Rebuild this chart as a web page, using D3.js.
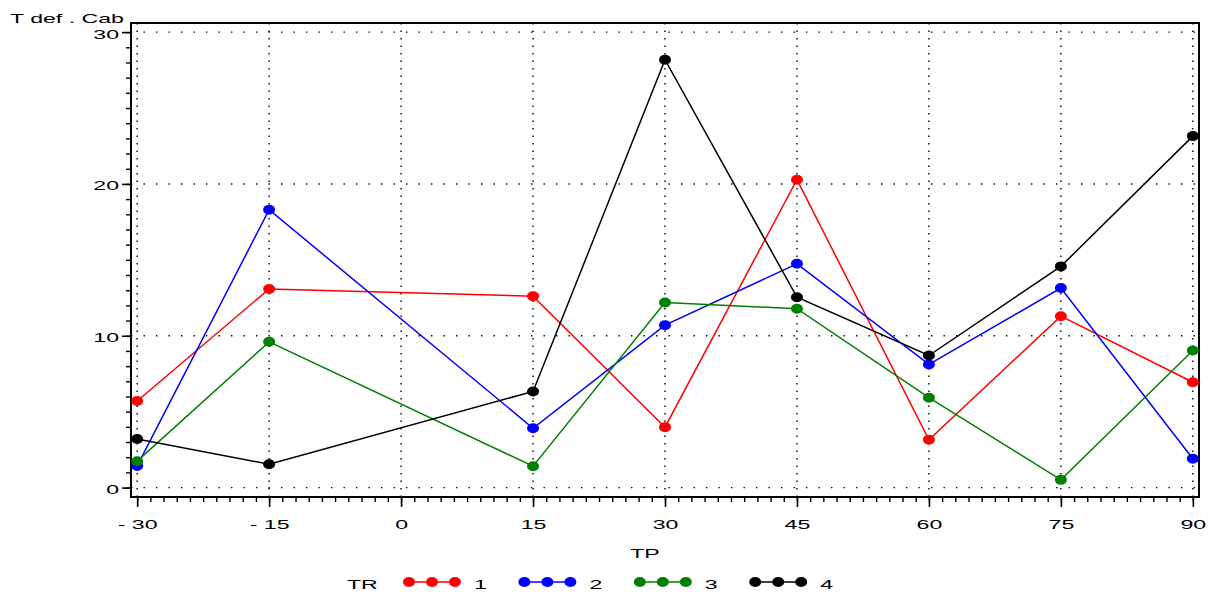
<!DOCTYPE html>
<html>
<head>
<meta charset="utf-8">
<script src="https://cdn.jsdelivr.net/npm/d3@7"></script>
<style>
  html, body { margin: 0; padding: 0; background: #fff; }
  svg { display: block; font-family: "Liberation Sans", Arial, sans-serif; }
</style>
</head>
<body>
<svg id="chart" width="1208" height="593"></svg>
<script>
//  data
const tp = [-30, -15, 15, 30, 45, 60, 75, 90];
const tr_names = ["1", "2", "3", "4"];
const tr1 = [5.7, 13.08, 12.61, 3.98, 20.28, 3.15, 11.29, 6.94];
const tr2 = [1.43, 18.3, 3.91, 10.7, 14.74, 8.11, 13.14, 1.9];
const tr3 = [1.74, 9.6, 1.41, 12.19, 11.78, 5.92, 0.51, 9.03];
const tr4 = [3.2, 1.54, 6.33, 28.18, 12.54, 8.7, 14.57, 23.15];
const x_ticks = [-30, -15, 0, 15, 30, 45, 60, 75, 90];
const y_ticks = [0, 10, 20, 30];
const colors = ["#ff0000", "#0000ff", "#008000", "#000000"];

//  draw
function draw_chart() {
  const svg = d3.select("#chart");
  const frame = {left: 131, right: 1199, top: 23, bottom: 497};
  const sx = 1.78;   // the labels in the picture are stretched wide
  const fs = 13;

  const x = d3.scaleLinear().domain([-30.7, 90.7]).range([frame.left, frame.right]);
  const y = d3.scaleLinear().domain([-0.62, 30.6]).range([frame.bottom, frame.top]);

  // dotted grid
  svg.append("g").selectAll("line").data(x_ticks).join("line")
      .attr("x1", d => x(d)).attr("x2", d => x(d))
      .attr("y1", frame.top).attr("y2", frame.bottom)
      .attr("stroke", "#000").attr("stroke-width", 1.4)
      .attr("stroke-dasharray", "1.4,6.1");
  svg.append("g").selectAll("line").data(y_ticks).join("line")
      .attr("x1", frame.left).attr("x2", frame.right)
      .attr("y1", d => y(d)).attr("y2", d => y(d))
      .attr("stroke", "#000").attr("stroke-width", 1.4)
      .attr("stroke-dasharray", "1.4,11.1");

  // minor ticks
  svg.append("g")
      .attr("transform", `translate(0,${frame.bottom})`)
      .call(d3.axisBottom(x).tickValues(d3.range(-30, 90.1, 1.5)).tickSize(5).tickFormat(""))
      .call(g => g.select(".domain").remove())
      .selectAll("line").attr("stroke-width", 1.4);
  svg.append("g")
      .attr("transform", `translate(${frame.left},0)`)
      .call(d3.axisLeft(y).tickValues(d3.range(0, 30.1, 1)).tickSize(5).tickFormat(""))
      .call(g => g.select(".domain").remove())
      .selectAll("line").attr("stroke-width", 1.4);

  // major ticks and labels
  const xAxis = svg.append("g")
      .attr("transform", `translate(0,${frame.bottom})`)
      .call(d3.axisBottom(x).tickValues(x_ticks).tickSize(10)
        .tickFormat(d => d < 0 ? "- " + Math.abs(d) : String(d)));
  xAxis.select(".domain").remove();
  xAxis.selectAll("line").attr("stroke-width", 1.6);
  xAxis.selectAll("text")
      .attr("y", null).attr("dy", null)
      .attr("transform", `translate(0,32) scale(${sx},1)`)
      .attr("font-size", fs).attr("font-family", null).attr("fill", "#000");

  const yAxis = svg.append("g")
      .attr("transform", `translate(${frame.left},0)`)
      .call(d3.axisLeft(y).tickValues(y_ticks).tickSize(9));
  yAxis.select(".domain").remove();
  yAxis.selectAll("line").attr("stroke-width", 1.6);
  yAxis.selectAll("text")
      .attr("x", null).attr("dy", "0.38em")
      .attr("transform", `translate(-12,1) scale(${sx},1)`)
      .attr("font-size", fs).attr("font-family", null).attr("fill", "#000");

  // frame
  svg.append("rect")
      .attr("x", frame.left).attr("y", frame.top)
      .attr("width", frame.right - frame.left).attr("height", frame.bottom - frame.top)
      .attr("fill", "none").attr("stroke", "#000").attr("stroke-width", 2);

  // series
  const series = [tr1, tr2, tr3, tr4];
  const line = d3.line().x((d, i) => x(tp[i])).y(d => y(d));
  series.forEach((vals, k) => {
    svg.append("path")
        .datum(vals)
        .attr("fill", "none")
        .attr("stroke", colors[k])
        .attr("stroke-width", 1.5)
        .attr("d", line);
    svg.append("g").selectAll("ellipse").data(vals).join("ellipse")
        .attr("cx", (d, i) => x(tp[i]))
        .attr("cy", d => y(d))
        .attr("rx", 6).attr("ry", 5)
        .attr("fill", colors[k]);
  });

  // titles
  const label = (txt, tx, ty, anchor) => svg.append("text")
      .attr("transform", `translate(${tx},${ty}) scale(${sx},1)`)
      .attr("text-anchor", anchor)
      .attr("font-size", fs)
      .text(txt);
  label("T def . Cab", 10, 23, "start");
  label("TP", 645, 558, "middle");

  // legend
  const ly = 582;
  label("TR", 347, 589, "start");
  tr_names.forEach((name, k) => {
    const x0 = 409 + k * 115.4;
    const g = svg.append("g");
    g.append("line")
        .attr("x1", x0).attr("x2", x0 + 46)
        .attr("y1", ly).attr("y2", ly)
        .attr("stroke", colors[k]).attr("stroke-width", 1.5);
    g.selectAll("ellipse").data([0, 1, 2]).join("ellipse")
        .attr("cx", d => x0 + d * 23).attr("cy", ly)
        .attr("rx", 6).attr("ry", 5)
        .attr("fill", colors[k]);
    label(name, x0 + 65, 589, "start");
  });
}

draw_chart();
</script>
</body>
</html>
